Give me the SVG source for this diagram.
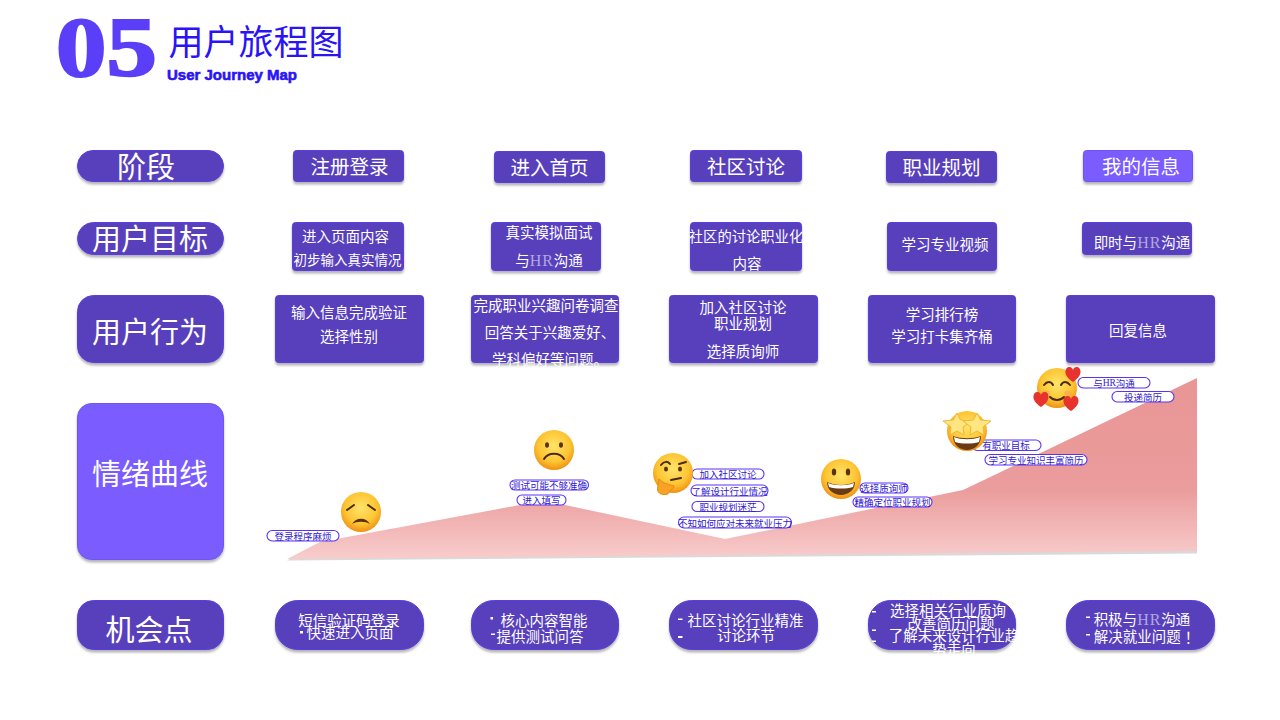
<svg xmlns="http://www.w3.org/2000/svg" width="1280" height="720" viewBox="0 0 1280 720">
<style>
text{font-family:"Noto Sans CJK SC","Liberation Sans",sans-serif;text-anchor:middle;dominant-baseline:central}
.box{fill:#5840bc;stroke:#5a3ce2;stroke-width:1;filter:url(#sh)}
.hl{fill:#7a5cff;stroke:#6f52f5;stroke-width:1;filter:url(#sh)}
.t{fill:#fff;transform:translateY(-1.5px)}
.h{font-size:29px}.m{font-size:19.5px}.s{font-size:14.5px}
.hr{font-family:"Liberation Serif",serif;fill-opacity:.55;font-size:16px;letter-spacing:1px}
.pill{fill:#fff;stroke:#5a32f5;stroke-width:1.1}
.p{font-size:9.5px;fill:#2f18d0}
.b{fill:#fff}
.line{fill:none;stroke:#4a2a10;stroke-width:2;stroke-linecap:round}
.eye{fill:#5a3410}
.heart{fill:#e8322e}
</style>
<defs>
<filter id="sh" x="-10%" y="-15%" width="120%" height="135%"><feDropShadow dx="0" dy="2.5" stdDeviation="1" flood-color="#777" flood-opacity=".55"/></filter>
<linearGradient id="curve" gradientUnits="userSpaceOnUse" x1="0" y1="378" x2="0" y2="558"><stop offset="0" stop-color="#e99595"/><stop offset=".62" stop-color="#eb9c9c"/><stop offset="1" stop-color="#f8cccc"/></linearGradient>
<radialGradient id="face" cx=".5" cy=".4" r=".62"><stop offset="0" stop-color="#ffe46a"/><stop offset=".65" stop-color="#fdc431"/><stop offset="1" stop-color="#ee8a12"/></radialGradient>
<path id="hrt" d="M0 8C-11 1-8-7-3.500-7-1.700-7-.6-6 0-4 .6-6 1.700-7 3.500-7 8-7 11 1 0 8Z" class="heart"/>
<polygon id="star" points="0,-11 3.500,-4 14,-3 6,3 7,11 0,7 -7,11 -6,3 -14,-3 -3.500,-4" fill="#ffe680" stroke="#f2b63c" stroke-width="1"/>
</defs>

<g id="title">
<text transform="translate(106.500 76) scale(1.2 1)" font-size="84" font-weight="700" style="font-family:'Liberation Serif',serif;dominant-baseline:alphabetic" fill="#5b3ff8" stroke="#5b3ff8" stroke-width="2.200">05</text>
<text x="256" y="39" font-size="35" fill="#2a14f5">用户旅程图</text>
<text x="232" y="74.500" font-size="15" font-weight="700" fill="#2a14f5" stroke="#2a14f5" stroke-width=".6" style="font-family:'Liberation Sans',sans-serif">User Journey Map</text>
</g>

<g id="row-labels">
<g id="label-stage"><rect class="box" x="77.500" y="150.500" width="146" height="31" rx="15.500"/><text class="t h" x="146" y="166">阶段</text></g>
<g id="label-goal"><rect class="box" x="77.500" y="222.500" width="146" height="32" rx="16"/><text class="t h" x="150" y="238">用户目标</text></g>
<g id="label-behavior"><rect class="box" x="77.500" y="295.500" width="146" height="67" rx="16"/><text class="t h" x="150" y="331">用户行为</text></g>
<g id="label-emotion"><rect class="hl" x="77.500" y="403.500" width="146" height="156" rx="14"/><text class="t h" x="150" y="473">情绪曲线</text></g>
<g id="label-chance"><rect class="box" x="77.500" y="600.500" width="146" height="49" rx="16"/><text class="t h" x="149" y="629">机会点</text></g>
</g>

<g id="stage-row">
<g id="stage-1"><rect class="box" x="293.500" y="150.500" width="110" height="31" rx="3"/><text class="t m" x="349.500" y="167">注册登录</text></g>
<g id="stage-2"><rect class="box" x="494.500" y="151.500" width="110" height="31" rx="3"/><text class="t m" x="549.500" y="168">进入首页</text></g>
<g id="stage-3"><rect class="box" x="690.500" y="150.500" width="111" height="31" rx="3"/><text class="t m" x="746" y="167">社区讨论</text></g>
<g id="stage-4"><rect class="box" x="886.500" y="151.500" width="110" height="31" rx="3"/><text class="t m" x="941.500" y="168">职业规划</text></g>
<g id="stage-5"><rect class="hl" x="1083.500" y="150.500" width="109" height="31" rx="3"/><text class="t m" x="1141" y="167">我的信息</text></g>
</g>

<g id="goal-row">
<g id="goal-1"><rect class="box" x="292.500" y="222.500" width="111" height="48" rx="3"/><text class="t s" x="345.500" y="237">进入页面内容</text><text class="t" font-size="13.500" x="347.500" y="260">初步输入真实情况</text></g>
<g id="goal-2"><rect class="box" x="491.500" y="222.500" width="109" height="48" rx="3"/><text class="t s" x="549" y="233">真实模拟面试</text><text class="t s" x="549" y="261">与<tspan class="hr">HR</tspan>沟通</text></g>
<g id="goal-3"><rect class="box" x="690.500" y="222.500" width="111" height="48" rx="3"/><text class="t" font-size="14.300" x="746" y="237">社区的讨论职业化</text><text class="t s" x="747" y="264">内容</text></g>
<g id="goal-4"><rect class="box" x="887.500" y="222.500" width="109" height="48" rx="3"/><text class="t s" x="945" y="245">学习专业视频</text></g>
<g id="goal-5"><rect class="box" x="1082.500" y="222.500" width="109" height="32" rx="3"/><text class="t s" x="1142" y="243">即时与<tspan class="hr">HR</tspan>沟通</text></g>
</g>

<g id="behavior-row">
<g id="behavior-1"><rect class="box" x="275.500" y="295.500" width="148" height="67" rx="3"/><text class="t s" x="349" y="313">输入信息完成验证</text><text class="t s" x="349" y="337">选择性别</text></g>
<g id="behavior-2"><rect class="box" x="471.500" y="295.500" width="147" height="67" rx="3"/><text class="t s" x="546" y="306">完成职业兴趣问卷调查</text><text class="t s" x="550" y="333">回答关于兴趣爱好、</text><text class="t s" x="550" y="360">学科偏好等问题。</text></g>
<g id="behavior-3"><rect class="box" x="669.500" y="295.500" width="148" height="67" rx="3"/><text class="t s" x="743" y="308">加入社区讨论</text><text class="t s" x="743" y="324">职业规划</text><text class="t s" x="743" y="352">选择质询师</text></g>
<g id="behavior-4"><rect class="box" x="868.500" y="295.500" width="147" height="67" rx="3"/><text class="t s" x="942" y="315">学习排行榜</text><text class="t s" x="942" y="337">学习打卡集齐桶</text></g>
<g id="behavior-5"><rect class="box" x="1066.500" y="295.500" width="148" height="67" rx="3"/><text class="t s" x="1138" y="331">回复信息</text></g>
</g>

<g id="emotion-curve">
<polygon points="287,559 320,542 520,505 565,505 725,539 963,490 1197,378 1197,552" fill="#aaa" opacity=".45" transform="translate(0 1.500)"/>
<polygon points="287,559 320,542 520,505 565,505 725,539 963,490 1197,378 1197,551" fill="url(#curve)"/>
</g>

<g id="emotion-tags">
<g id="tag-1"><rect class="pill" x="267" y="530.500" width="72" height="10.500" rx="5.200"/><text class="p" x="303" y="536">登录程序麻烦</text></g>
<g id="tag-2"><rect class="pill" x="510" y="480" width="78.500" height="10" rx="5"/><text class="p" x="549" y="485">测试可能不够准确</text></g>
<g id="tag-3"><rect class="pill" x="517" y="495" width="49" height="10" rx="5"/><text class="p" x="541.500" y="500">进入填写</text></g>
<g id="tag-4"><rect class="pill" x="692" y="469" width="72" height="10" rx="5"/><text class="p" x="728" y="474">加入社区讨论</text></g>
<g id="tag-5"><rect class="pill" x="691" y="485" width="77" height="11" rx="5.500"/><text class="p" x="729.500" y="490.500">了解设计行业情况</text></g>
<g id="tag-6"><rect class="pill" x="692" y="501.500" width="72" height="10" rx="5"/><text class="p" x="728" y="506.500">职业规划迷茫</text></g>
<g id="tag-7"><rect class="pill" x="678.500" y="517" width="113" height="11" rx="5.500"/><text class="p" x="735" y="522.500">不知如何应对未来就业压力</text></g>
<g id="tag-8"><rect class="pill" x="860" y="483" width="48" height="10" rx="5"/><text class="p" x="884" y="488">选择质询师</text></g>
<g id="tag-9"><rect class="pill" x="853" y="497" width="79" height="10" rx="5"/><text class="p" x="892.500" y="502">精确定位职业规划</text></g>
<g id="tag-10"><rect class="pill" x="972" y="440" width="69" height="10.500" rx="5.200"/><text class="p" x="1006" y="445">有职业目标</text></g>
<g id="tag-11"><rect class="pill" x="985" y="454.500" width="102" height="10.500" rx="5.200"/><text class="p" x="1036" y="459.500">学习专业知识丰富简历</text></g>
<g id="tag-12"><rect class="pill" x="1078" y="377.500" width="72" height="10.500" rx="5.200"/><text class="p" x="1114" y="382.500">与<tspan style="font-family:'Liberation Serif',serif">HR</tspan>沟通</text></g>
<g id="tag-13"><rect class="pill" x="1112" y="391.500" width="62" height="10.500" rx="5.200"/><text class="p" x="1143" y="396.500">投递简历</text></g>
</g>

<g id="emoji-1"><circle cx="361" cy="512" r="20" fill="url(#face)"/><path class="line" d="M347 510 354 505M375 510 368 505"/><path d="M352 524C356 517 366 517 370 524 365 521 357 521 352 524Z" fill="#5a3410"/></g>
<g id="emoji-2"><circle cx="554" cy="450" r="20" fill="url(#face)"/><ellipse class="eye" cx="547" cy="445" rx="2" ry="2.800"/><ellipse class="eye" cx="561" cy="445" rx="2" ry="2.800"/><path class="line" d="M544 459C548 452 560 452 564 459"/></g>
<g id="emoji-3"><circle cx="673" cy="473" r="20" fill="url(#face)"/><path class="line" d="M661 465C664 461 668 461 670 464M679 464 686 462"/><ellipse class="eye" cx="666" cy="469" rx="2" ry="2.600"/><ellipse class="eye" cx="680" cy="469" rx="2" ry="2.600"/><path class="line" d="M671 480 681 478"/><path d="M659 479C664 484 668 484 674 486 674 490 668 490 668 494 660 496 656 492 658 486Z" fill="#f9a326" stroke="#e68a12" stroke-width="1"/></g>
<g id="emoji-4"><circle cx="841" cy="479" r="20" fill="url(#face)"/><ellipse class="eye" cx="834" cy="472" rx="2.200" ry="3.500"/><ellipse class="eye" cx="848" cy="472" rx="2.200" ry="3.500"/><path d="M827 482C835 486 847 486 855 482 855 490 848 495 841 495 834 495 827 490 827 482Z" fill="#6a3a12"/><path d="M828 483C835 486 847 486 854 483L853 487C846 489 836 489 829 487Z" fill="#fff"/></g>
<g id="emoji-5"><circle cx="967" cy="431" r="20" fill="url(#face)"/><path d="M953 436C961 439 973 439 981 436 981 445 974 450 967 450 960 450 953 445 953 436Z" fill="#6a3a12"/><path d="M954 437C961 440 973 440 980 437L979 442C972 444 962 444 955 442Z" fill="#fff"/><use href="#star" x="957" y="424"/><use href="#star" x="977" y="424"/></g>
<g id="emoji-6"><circle cx="1057" cy="388" r="20" fill="url(#face)"/><path class="line" d="M1044 385C1047 381 1051 381 1053 385M1061 385C1063 381 1067 381 1070 385"/><path class="line" d="M1050 397C1054 401 1060 401 1064 397"/><ellipse cx="1046" cy="393" rx="4" ry="2.500" fill="#f59a5a" opacity=".5"/><ellipse cx="1068" cy="393" rx="4" ry="2.500" fill="#f59a5a" opacity=".5"/><use href="#hrt" x="1073" y="374"/><use href="#hrt" x="1041" y="399"/><use href="#hrt" x="1071" y="403"/></g>

<g id="chance-row">
<g id="chance-1"><rect class="box" x="275.500" y="600.500" width="148" height="49" rx="22"/><text class="t s" x="349" y="621">短信验证码登录</text><text class="t s" x="350" y="633">快速进入页面</text><rect class="b" x="300" y="631" width="3" height="2.500"/></g>
<g id="chance-2"><rect class="box" x="471.500" y="600.500" width="147" height="49" rx="22"/><text class="t s" x="544" y="621">核心内容智能</text><text class="t s" x="540" y="637">提供测试问答</text><rect class="b" x="490.500" y="617" width="2.500" height="2.500"/><rect class="b" x="491" y="633.500" width="4" height="1.500"/></g>
<g id="chance-3"><rect class="box" x="669.500" y="600.500" width="148" height="49" rx="22"/><text class="t s" x="745.500" y="621">社区讨论行业精准</text><text class="t s" x="746" y="636">讨论环节</text><rect class="b" x="678" y="618.500" width="4.500" height="1.500"/><rect class="b" x="678" y="636" width="4.500" height="2"/></g>
<g id="chance-4"><rect class="box" x="868.500" y="600.500" width="147" height="49" rx="22"/><text class="t s" x="948" y="611">选择相关行业质询</text><text class="t s" x="951" y="624">改善简历问题</text><text class="t s" x="954" y="636">了解未来设计行业趋</text><text class="t s" x="954" y="650">势走向</text><rect class="b" x="872" y="611" width="4" height="1.500"/><rect class="b" x="872" y="629.500" width="4" height="1.500"/><rect class="b" x="872" y="640.500" width="4" height="1.500"/></g>
<g id="chance-5"><rect class="box" x="1066.500" y="600.500" width="148" height="49" rx="22"/><text class="t s" x="1142" y="620">积极与<tspan class="hr">HR</tspan>沟通</text><text class="t s" x="1146.500" y="637">解决就业问题<tspan dx="4">！</tspan></text><rect class="b" x="1086" y="616.500" width="4" height="1.500"/><rect class="b" x="1086" y="634" width="4" height="1.500"/></g>
</g>
</svg>
